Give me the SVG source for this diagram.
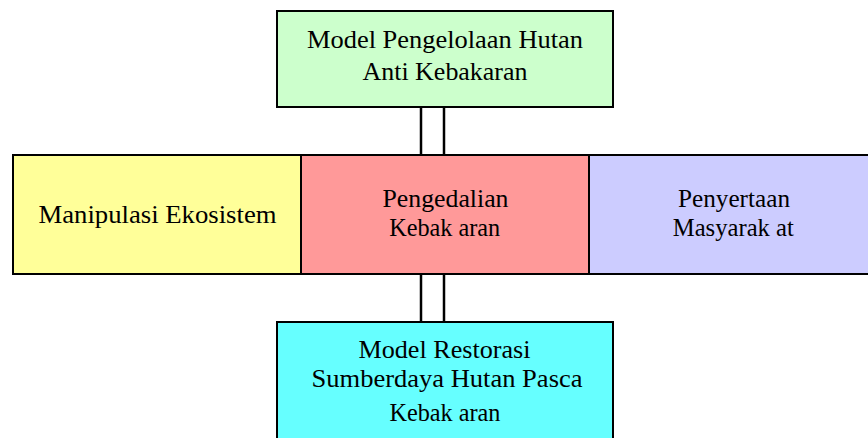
<svg xmlns="http://www.w3.org/2000/svg" width="868" height="438" viewBox="0 0 868 438">
<style>
.box{stroke:#000;stroke-width:2}
.t{font-family:"Liberation Serif","Times New Roman",serif;font-size:26px;fill:#000;text-anchor:middle}
.c{stroke:#000;stroke-width:2.5;fill:none}
</style>
<rect width="868" height="438" fill="#fff"/>
<g id="connectors">
<line class="c" x1="421" y1="107" x2="421" y2="155"/>
<line class="c" x1="444" y1="107" x2="444" y2="155"/>
<line class="c" x1="421" y1="274" x2="421" y2="322"/>
<line class="c" x1="444" y1="274" x2="444" y2="322"/>
</g>
<g id="top">
<rect class="box" x="277" y="11" width="336" height="96" fill="#CCFFCC"/>
<text class="t" x="445" y="48" textLength="276" lengthAdjust="spacingAndGlyphs">Model Pengelolaan Hutan</text>
<text class="t" x="445" y="80" textLength="165" lengthAdjust="spacingAndGlyphs">Anti Kebakaran</text>
</g>
<g id="left">
<rect class="box" x="13" y="155" width="288" height="119" fill="#FFFF99"/>
<text class="t" x="157.5" y="223" textLength="238" lengthAdjust="spacingAndGlyphs">Manipulasi Ekosistem</text>
</g>
<g id="center">
<rect class="box" x="301" y="155" width="288" height="119" fill="#FF9999"/>
<text class="t" x="445.5" y="207" textLength="126" lengthAdjust="spacingAndGlyphs">Pengedalian</text>
<text class="t" x="444.7" y="236" textLength="111" lengthAdjust="spacingAndGlyphs">Kebak aran</text>
</g>
<g id="right">
<rect class="box" x="589" y="155" width="290" height="119" fill="#CCCCFF"/>
<text class="t" x="734" y="207" textLength="112" lengthAdjust="spacingAndGlyphs">Penyertaan</text>
<text class="t" x="733.3" y="236" textLength="121" lengthAdjust="spacingAndGlyphs">Masyarak at</text>
</g>
<g id="bottom">
<rect class="box" x="277" y="322" width="336" height="130" fill="#66FFFF"/>
<text class="t" x="444.5" y="358" textLength="172" lengthAdjust="spacingAndGlyphs">Model Restorasi</text>
<text class="t" x="447" y="387" textLength="271" lengthAdjust="spacingAndGlyphs">Sumberdaya Hutan Pasca</text>
<text class="t" x="445" y="421" textLength="111" lengthAdjust="spacingAndGlyphs">Kebak aran</text>
</g>
</svg>
